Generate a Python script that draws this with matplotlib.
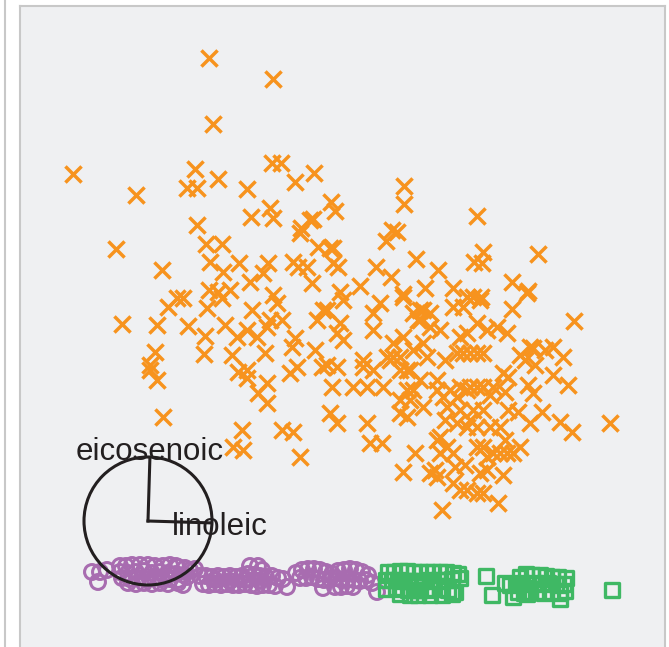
import numpy as np
import matplotlib
matplotlib.use("Agg")
import matplotlib.pyplot as plt
from matplotlib.patches import Circle

# projected coordinates (x right, y down)
south = np.array([
    (209, 58), (273, 79), (213, 124), (73, 174), (136, 195), (195, 169), (187, 188),
    (197, 188), (218, 179), (247, 189), (272, 163), (281, 163), (295, 182), (314, 173),
    (331, 202), (335, 211), (270, 208), (273, 218), (251, 217), (197, 225), (301, 228),
    (313, 219), (310, 220), (404, 186), (404, 204), (477, 216), (392, 230), (397, 232),
    (386, 241), (333, 248), (416, 259), (376, 267), (333, 263), (338, 267), (391, 277),
    (438, 270), (483, 252), (474, 262), (482, 263), (538, 254), (512, 282), (528, 291),
    (360, 286), (425, 288), (453, 288), (340, 292), (403, 294), (467, 297), (481, 297),
    (116, 249), (162, 270), (122, 324), (157, 325), (168, 307), (183, 298), (177, 298),
    (188, 326), (206, 244), (222, 244), (210, 262), (223, 272), (239, 263), (250, 282),
    (209, 290), (218, 292), (230, 290), (207, 308), (222, 298), (252, 310), (225, 325),
    (205, 336), (204, 354), (155, 352), (150, 365), (157, 380), (150, 370), (163, 417),
    (237, 337), (232, 355), (247, 330), (247, 370), (247, 378), (238, 372), (257, 337),
    (267, 327), (268, 263), (263, 273), (273, 295), (277, 303), (270, 320), (282, 320),
    (293, 262), (298, 267), (307, 267), (312, 283), (317, 320), (323, 310), (265, 353),
    (267, 383), (258, 393), (267, 403), (295, 338), (292, 347), (297, 367), (290, 373),
    (315, 350), (322, 367), (300, 233), (318, 247), (330, 248), (242, 430), (233, 447),
    (243, 450), (282, 430), (293, 432), (300, 457),
    (574, 321), (610, 423), (512, 309), (527, 293), (553, 347), (563, 357), (530, 347),
    (533, 348), (520, 355), (553, 375), (568, 385), (535, 365), (528, 385), (533, 393),
    (542, 412), (560, 422), (572, 432), (530, 423), (518, 412), (508, 410), (503, 373),
    (508, 377), (493, 387), (483, 387), (477, 387), (470, 387), (467, 390), (470, 353),
    (477, 353), (483, 353), (463, 353), (457, 353), (467, 333), (477, 323), (487, 330),
    (497, 327), (507, 333), (460, 337), (453, 307), (463, 307), (473, 297), (480, 300),
    (423, 343), (418, 320), (420, 310), (430, 313), (430, 327), (413, 313), (403, 297),
    (393, 343), (393, 357), (387, 357), (400, 357), (407, 370), (420, 380), (413, 390),
    (407, 390), (437, 380), (437, 390), (443, 397), (447, 407), (457, 397), (460, 410),
    (473, 410), (483, 410), (490, 427), (500, 427), (477, 427), (467, 427), (457, 423),
    (440, 437), (447, 447), (440, 453), (453, 453), (477, 447), (483, 447), (487, 457),
    (493, 453), (500, 453), (507, 453), (513, 453), (520, 447), (435, 470), (430, 473),
    (437, 477), (480, 473), (487, 470), (503, 475), (453, 483), (460, 490), (467, 490),
    (477, 493), (483, 493), (498, 503), (442, 510), (415, 453), (403, 472), (367, 423),
    (370, 443), (382, 443), (330, 413), (337, 423), (332, 387), (353, 387), (367, 387),
    (383, 387), (363, 367), (363, 360), (373, 370), (337, 367), (327, 365), (390, 360),
    (400, 370), (410, 370), (400, 400), (410, 400), (423, 407), (400, 413), (407, 417),
    (373, 313), (380, 303), (373, 330), (340, 323), (337, 333), (343, 340), (327, 310),
    (343, 300), (403, 337), (423, 310), (420, 320), (450, 390), (460, 387), (490, 395),
    (445, 360), (440, 330), (413, 350), (427, 357), (445, 420), (470, 420), (505, 392),
    (525, 360), (545, 350), (455, 467), (465, 465), (505, 440), (437, 440),
])

north = np.array([
    (92, 572), (100, 572), (98, 582), (107, 570), (120, 566), (126, 566), (132, 565),
    (140, 565), (148, 565), (155, 566), (163, 566), (170, 565), (178, 567), (185, 568),
    (190, 570), (120, 572), (128, 573), (136, 572), (144, 571), (152, 573), (160, 572),
    (168, 573), (176, 574), (184, 575), (122, 578), (130, 579), (138, 578), (146, 579),
    (154, 578), (162, 579), (170, 579), (178, 580), (128, 583), (136, 584), (144, 583),
    (152, 584), (160, 583), (168, 584), (178, 583), (183, 585), (187, 577), (176, 566),
    (195, 569), (200, 576), (206, 576), (212, 577), (218, 576), (224, 577), (230, 576),
    (236, 577), (242, 576), (248, 574), (254, 575), (260, 576), (266, 577), (272, 576),
    (278, 578), (203, 584), (209, 585), (215, 584), (221, 585), (227, 584), (233, 585),
    (239, 585), (245, 584), (251, 585), (257, 586), (263, 585), (269, 585), (275, 586),
    (250, 566), (258, 566), (262, 570), (287, 587), (283, 579), (215, 580), (230, 581),
    (245, 580), (260, 581), (296, 573), (302, 570), (308, 569), (314, 569), (320, 570),
    (326, 572), (332, 574), (338, 571), (344, 570), (350, 569), (356, 570), (362, 572),
    (368, 575), (300, 578), (306, 578), (312, 577), (318, 579), (324, 580), (330, 579),
    (336, 578), (342, 580), (348, 579), (354, 580), (360, 581), (366, 580), (372, 583),
    (323, 588), (335, 587), (341, 587), (347, 586), (353, 587), (377, 592),
])

sardinia = np.array([
    (388, 572), (394, 572), (400, 571), (407, 571), (414, 572), (420, 572), (427, 572),
    (433, 572), (440, 572), (446, 572), (453, 573), (458, 574), (386, 580), (392, 580),
    (398, 580), (404, 581), (410, 581), (416, 581), (422, 581), (430, 580), (438, 580),
    (446, 580), (452, 579), (460, 578), (386, 589), (396, 588), (402, 589), (408, 590),
    (414, 590), (420, 590), (426, 590), (432, 589), (440, 589), (448, 590), (455, 592),
    (400, 594), (410, 595), (418, 595), (430, 595), (442, 595), (452, 594),
    (486, 576), (492, 595),
    (520, 577), (526, 574), (532, 575), (540, 575), (546, 576), (552, 577), (558, 577),
    (566, 578), (505, 583), (510, 585), (516, 584), (522, 583), (528, 584), (535, 583),
    (542, 584), (548, 583), (556, 584), (564, 584), (518, 592), (524, 593), (530, 592),
    (536, 592), (544, 593), (552, 592), (560, 593), (565, 591), (560, 599), (513, 597),
    (527, 594), (612, 590),
])

# axis guide: centre, radius and unit directions of the variables
guide_centre = (148, 521)
guide_radius = 64
var_names = ["eicosenoic", "linoleic"]
var_dx = [0.03, 0.99]
var_dy = [-0.99, 0.03]
label_shift = [(0, 4), (6, -3)]  # points

orange = "#f7931e"
purple = "#a86cb0"
green = "#3fb864"

fig = plt.figure(figsize=(6.69, 6.47), dpi=100)
fig.patch.set_facecolor("white")

W, H = 669, 647

# neighbouring panel, only its right edge shows
ax_left = fig.add_axes([-0.5, -0.1, 0.5 + 5 / W, 1.3])
ax_left.set_facecolor("white")
ax_left.set_xticks([])
ax_left.set_yticks([])
for s in ax_left.spines.values():
    s.set_color("#c8c8c8")
    s.set_linewidth(1.5)

ax = fig.add_axes([20 / W, -10 / H, 645 / W, 651 / H])
ax.set_facecolor("#eff0f2")
for s in ax.spines.values():
    s.set_color("#c8c8c8")
    s.set_linewidth(1.5)
ax.set_xticks([])
ax.set_yticks([])
ax.set_xlim(20, 665)
ax.set_ylim(657, 6)

ax.scatter(north[:, 0], north[:, 1], marker="o", s=115, facecolors="none",
           edgecolors=purple, linewidths=2.2, zorder=2)
ax.scatter(sardinia[:, 0], sardinia[:, 1], marker="s", s=90, facecolors="none",
           edgecolors=green, linewidths=2.4, zorder=2)
ax.scatter(south[:, 0], south[:, 1], marker="x", s=135, c=orange,
           linewidths=2.5, zorder=2)

cx, cy = guide_centre
ax.add_patch(Circle(guide_centre, guide_radius, fill=False, ec="#231f20",
                    lw=2.2, zorder=3))
for name, dx, dy, off in zip(var_names, var_dx, var_dy, label_shift):
    ex = cx + dx * guide_radius
    ey = cy + dy * guide_radius
    ax.plot([cx, ex], [cy, ey], color="#231f20", lw=2.2, zorder=3)
    ax.annotate(name, (ex, ey), xytext=off, textcoords="offset points",
                ha="center", va="center", fontsize=22.5,
                family="Liberation Sans", color="#231f20", zorder=4)

fig.savefig("out.png", dpi=100)
